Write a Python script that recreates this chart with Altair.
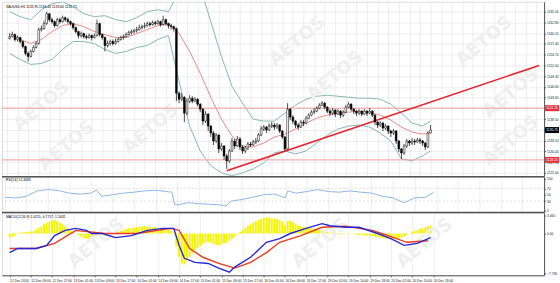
import altair as alt
import pandas as pd

# ---------------- price data (H1 candles) ----------------
closes = [
    1159.25, 1159.75, 1158.5, 1159.0, 1158.0, 1156.75, 1155.0, 1154.25, 1155.5, 1156.5,
    1157.5, 1161.0, 1161.25, 1162.5, 1165.0, 1163.5, 1163.0, 1162.0, 1163.5, 1163.0,
    1164.0, 1163.5, 1163.0, 1162.5, 1161.5, 1160.5, 1159.5, 1160.0, 1159.25, 1159.0,
    1159.5, 1159.0, 1159.5, 1162.5, 1159.75, 1159.0, 1157.0, 1157.5, 1158.0, 1157.5,
    1158.0, 1158.5, 1159.0, 1159.25, 1159.75, 1160.25, 1160.5, 1160.75, 1161.0, 1161.5,
    1161.75, 1162.0, 1162.5, 1162.25, 1162.75, 1162.5, 1163.0, 1162.25, 1163.5, 1162.5,
    1162.0, 1161.75, 1161.25, 1145.0, 1143.5, 1144.0, 1140.0, 1143.0, 1143.75, 1143.0,
    1143.5, 1142.25, 1141.0, 1138.0, 1139.75, 1136.75, 1135.0, 1133.0, 1134.5, 1131.0,
    1131.75, 1129.25, 1128.0, 1130.5, 1133.0, 1131.75, 1133.5, 1131.5, 1130.5, 1131.25,
    1132.25, 1132.0, 1132.75, 1133.0, 1134.5, 1136.0, 1136.5, 1135.75, 1136.75, 1137.0,
    1136.5, 1137.0, 1135.5, 1134.0, 1131.0, 1141.0, 1139.0, 1138.0, 1137.0, 1136.5,
    1137.75, 1137.5, 1138.75, 1139.5, 1140.25, 1140.5, 1141.25, 1142.0, 1142.5, 1141.5,
    1140.5, 1140.0, 1140.75, 1139.75, 1140.5, 1139.5, 1140.25, 1141.5, 1142.25, 1141.0,
    1140.5, 1140.0, 1140.5, 1139.75, 1140.5, 1140.0, 1140.5, 1139.5, 1137.75, 1137.0,
    1137.5, 1136.25, 1136.75, 1135.5, 1135.0, 1135.5, 1133.0, 1131.0, 1130.0, 1131.75,
    1133.0, 1132.5, 1133.0, 1132.75, 1133.25, 1133.0, 1132.5, 1131.5, 1135.0, 1135.75,
]
highs = [
    1160.0, 1160.5, 1160.0, 1159.5, 1159.25, 1158.25, 1157.0, 1155.5, 1156.0, 1157.0,
    1158.0, 1161.5, 1162.0, 1163.25, 1165.5, 1165.0, 1164.0, 1163.25, 1164.0, 1164.0,
    1164.5, 1164.25, 1164.0, 1163.25, 1162.75, 1161.75, 1160.75, 1160.5, 1160.25, 1159.75,
    1160.0, 1159.75, 1160.0, 1163.5, 1162.75, 1160.0, 1159.25, 1158.25, 1158.5, 1158.5,
    1158.75, 1159.0, 1159.5, 1159.75, 1160.25, 1160.75, 1161.0, 1161.25, 1161.75, 1162.25,
    1162.25, 1162.75, 1163.0, 1163.0, 1163.25, 1163.25, 1163.5, 1163.25, 1164.5, 1163.75,
    1162.75, 1162.5, 1162.0, 1161.5, 1145.5, 1145.0, 1144.25, 1143.75, 1144.5, 1144.25,
    1144.0, 1143.75, 1142.5, 1141.25, 1140.5, 1140.0, 1137.0, 1135.5, 1135.0, 1134.75,
    1132.5, 1132.0, 1129.75, 1131.0, 1133.75, 1133.5, 1134.25, 1134.0, 1132.0, 1131.75,
    1132.75, 1132.75, 1133.25, 1133.75, 1135.0, 1136.75, 1137.0, 1136.75, 1137.5, 1137.75,
    1137.5, 1137.5, 1137.25, 1135.75, 1134.25, 1142.5, 1141.25, 1139.5, 1138.25, 1137.5,
    1138.25, 1138.25, 1139.25, 1140.0, 1140.75, 1141.25, 1141.75, 1142.5, 1143.0, 1142.75,
    1141.75, 1141.0, 1141.25, 1141.0, 1141.0, 1140.75, 1140.75, 1142.0, 1142.75, 1142.5,
    1141.25, 1140.75, 1141.0, 1140.75, 1141.0, 1140.75, 1141.25, 1140.75, 1139.75, 1138.0,
    1138.0, 1137.75, 1137.25, 1137.0, 1135.75, 1136.0, 1135.75, 1133.25, 1131.25, 1132.25,
    1133.5, 1133.25, 1133.75, 1133.5, 1133.75, 1133.75, 1133.25, 1132.75, 1135.5, 1137.0,
]
lows = [
    1158.5, 1159.0, 1158.0, 1158.0, 1157.5, 1156.25, 1154.5, 1153.0, 1154.0, 1155.25,
    1156.25, 1157.25, 1160.5, 1161.0, 1162.25, 1163.0, 1162.5, 1161.5, 1161.75, 1162.5,
    1162.75, 1163.0, 1162.5, 1162.0, 1161.0, 1160.0, 1158.75, 1159.0, 1158.75, 1158.5,
    1158.75, 1158.25, 1158.75, 1159.25, 1159.25, 1158.5, 1155.5, 1156.5, 1157.0, 1157.0,
    1157.25, 1157.75, 1158.25, 1158.5, 1159.0, 1159.5, 1159.75, 1160.0, 1160.25, 1160.75,
    1161.0, 1161.25, 1161.75, 1161.75, 1162.0, 1162.0, 1162.25, 1161.75, 1162.0, 1162.0,
    1161.25, 1161.0, 1160.5, 1143.0, 1142.5, 1143.0, 1137.75, 1139.5, 1142.5, 1142.5,
    1142.75, 1141.75, 1140.25, 1137.0, 1137.5, 1135.5, 1134.0, 1132.0, 1132.5, 1130.0,
    1130.5, 1128.25, 1126.0, 1127.5, 1130.25, 1131.0, 1131.5, 1130.75, 1129.75, 1130.0,
    1130.75, 1131.5, 1131.75, 1132.25, 1132.75, 1134.25, 1135.5, 1135.0, 1135.5, 1136.25,
    1135.75, 1136.0, 1135.0, 1133.5, 1130.5, 1130.75, 1138.25, 1137.25, 1136.25, 1135.75,
    1136.25, 1136.75, 1137.25, 1138.5, 1139.25, 1139.75, 1140.25, 1141.0, 1141.75, 1141.0,
    1140.0, 1139.25, 1139.5, 1139.0, 1139.5, 1138.75, 1139.0, 1140.0, 1141.25, 1140.5,
    1139.75, 1139.25, 1139.5, 1139.25, 1139.5, 1139.25, 1139.75, 1139.0, 1137.0, 1136.25,
    1136.5, 1135.5, 1135.75, 1134.75, 1134.0, 1134.5, 1132.25, 1130.25, 1128.5, 1129.5,
    1131.25, 1131.75, 1132.0, 1132.0, 1132.5, 1132.25, 1131.75, 1130.75, 1131.25, 1135.0,
]
first_open = 1158.75
opens = [first_open] + closes[:-1]

# Bollinger bands (read at every 4th bar)
band_idx = [0, 4, 8, 12, 16, 20, 24, 28, 32, 36, 40, 44, 48, 52, 56, 60, 64, 68, 72, 76,
            80, 84, 88, 92, 96, 100, 104, 108, 112, 116, 120, 124, 128, 132, 136, 140, 144, 148, 152, 156, 159]
band_upper = [1165.5, 1164.25, 1163.5, 1166.0, 1167.5, 1168.0, 1166.75, 1165.0, 1164.25, 1164.5,
              1163.5, 1163.0, 1164.0, 1165.5, 1166.0, 1165.5, 1170.5, 1173.0, 1171.75, 1163.0,
              1154.25, 1146.75, 1142.5, 1138.5, 1138.0, 1138.0, 1140.0, 1142.0, 1143.5, 1144.25,
              1144.5, 1144.25, 1144.0, 1143.75, 1143.75, 1143.5, 1142.25, 1140.0, 1137.5, 1136.75, 1138.0]
band_mid = [1160.0, 1158.5, 1157.5, 1158.5, 1160.5, 1162.0, 1162.5, 1161.75, 1160.5, 1159.75,
            1159.0, 1159.0, 1160.0, 1161.0, 1162.0, 1162.5, 1160.0, 1155.5, 1150.0, 1144.0,
            1138.5, 1134.25, 1131.75, 1131.5, 1132.5, 1134.0, 1134.75, 1136.0, 1137.5, 1138.75,
            1139.5, 1140.0, 1140.25, 1140.5, 1140.25, 1139.5, 1138.25, 1136.5, 1135.25, 1134.75, 1135.0]
band_lower = [1155.0, 1153.5, 1152.25, 1152.5, 1153.5, 1156.0, 1158.0, 1158.0, 1157.5, 1156.0,
              1155.0, 1155.5, 1156.5, 1157.0, 1158.5, 1159.5, 1148.0, 1136.75, 1130.5, 1126.75,
              1125.0, 1124.25, 1125.0, 1126.0, 1127.5, 1130.0, 1130.5, 1129.75, 1130.5, 1132.5,
              1134.5, 1136.0, 1136.75, 1137.0, 1136.5, 1135.0, 1133.0, 1128.5, 1128.0, 1129.25, 1130.5]

levels = [1141.25, 1128.25]
last_price = 1135.75
trend_idx = [82, 200]
trend_price = [1125.5, 1152.0]
price_ticks = [1165.50, 1162.80, 1160.10, 1157.40, 1154.70, 1152.00, 1149.30, 1146.60,
               1143.90, 1141.20, 1138.50, 1135.80, 1133.10, 1130.40, 1127.70, 1125.00]

# RSI(14)
rsi_idx = [0, 4, 8, 12, 16, 20, 24, 28, 32, 34, 36, 40, 44, 48, 52, 56, 60, 62, 63, 64,
           68, 72, 76, 80, 82, 84, 88, 92, 96, 100, 104, 105, 108, 112, 116, 120, 124, 128, 132, 136,
           140, 144, 148, 152, 156, 159]
rsi_val = [42, 40, 45, 62, 66, 63, 55, 52, 55, 65, 45, 50, 55, 58, 62, 64, 60, 58, 20, 18,
           25, 22, 20, 18, 15, 30, 35, 42, 50, 52, 40, 62, 55, 60, 66, 60, 58, 62, 58, 55,
           45, 40, 25, 40, 42, 58]
rsi_ticks = [0, 30, 50, 70, 100]

# MACD
macd_idx = [0, 3, 10, 14, 17, 21, 25, 29, 31, 35, 40, 46, 52, 58, 62, 64, 66, 70, 75, 79,
            83, 85, 91, 97, 102, 106, 112, 118, 121, 127, 132, 139, 144, 149, 154, 159]
macd_val = [-3.7, -2.9, -2.9, -2.3, -0.4, 0.6, 1.0, 0.6, 0.0, 0.0, -0.8, -0.4, 0.6, 1.0, 1.0, -2.3, -4.8, -5.6, -5.8, -6.7,
            -7.5, -6.5, -4.6, -1.7, -1.0, 0.0, 1.0, 1.9, 1.5, 1.2, 1.2, 0.0, -1.0, -2.3, -1.9, -0.8]
sig_idx = [0, 10, 17, 25, 36, 48, 61, 64, 68, 73, 79, 85, 91, 97, 102, 110, 118, 127, 137, 143, 150, 158]
sig_val = [-2.9, -2.9, -1.9, 0.6, 0.0, 0.0, 1.0, 0.6, -2.9, -4.6, -5.8, -6.7, -5.6, -3.7, -1.7, -0.4, 1.2, 1.4, 0.6, -0.4, -1.7, -1.4]
hist_val = [
    -0.8, -0.6, -0.4,
    0.1, 0.2, 0.2, 0.3, 0.3, 0.4, 0.5,
    0.8, 1.1, 1.4, 1.8,
    2.1, 2.3, 2.5, 2.6, 2.4, 2.1, 1.8,
    1.4, 1.0, 0.6, 0.3,
    0.0, -0.3, -0.6, -0.9, -1.0, -1.0, -0.8, -0.6, -0.3, 0.2, -0.2, -0.4,
    -0.3, -0.2, -0.1, 0.1, 0.3, 0.5,
    0.7, 0.9, 1.0, 1.1, 1.2, 1.3, 1.3, 1.4, 1.4, 1.3, 1.3, 1.2, 1.2, 1.1, 1.0, 1.0, 0.9, 0.7,
    0.5, 0.2,
    -2.5, -4.5, -5.8, -6.0, -5.2, -4.5, -3.8, -3.2, -2.8, -2.4,
    -2.0, -1.8, -1.6, -1.8, -2.0, -2.2, -2.3, -2.1, -1.9, -1.8, -1.4, -1.0, -0.6, -0.2,
    0.3, 0.7, 1.1, 1.5, 1.8, 2.1, 2.4, 2.6, 2.8, 3.0, 3.1, 3.1, 3.0, 2.9, 2.8, 2.6,
    2.3, 1.6, 2.4, 2.5, 2.2, 1.9, 1.6, 1.4, 1.3, 1.2, 1.1, 1.0, 0.9, 0.8, 0.7, 0.6, 0.5,
    0.3, 0.2, 0.1, 0.0, -0.1, -0.2, -0.1, 0.0, 0.1, 0.0, -0.1, -0.2, -0.3, -0.3, -0.4, -0.4, -0.5, -0.5, -0.6, -0.7,
    -0.8, -0.9, -1.0, -1.0, -1.1, -1.1, -1.0, -0.9, -0.8, -0.6, -0.3,
    0.0, 0.3, 0.5, 0.7, 0.9, 1.0, 1.2, 1.4, 1.6,
]
macd_ticks = [3.46, 0.0, -7.736]

time_labels = ["12 Dec 2016", "12 Dec 09:00", "12 Dec 17:00", "13 Dec 01:00", "13 Dec 09:00",
               "13 Dec 17:00", "14 Dec 01:00", "14 Dec 09:00", "14 Dec 17:00", "15 Dec 01:00",
               "15 Dec 09:00", "15 Dec 17:00", "16 Dec 01:00", "16 Dec 09:00", "16 Dec 17:00",
               "19 Dec 02:00", "19 Dec 10:00", "19 Dec 18:00", "20 Dec 02:00", "20 Dec 10:00",
               "20 Dec 18:00"]
label_step = 8

header_main = "XAUUSD,H1  1133.95 1136.40 1133.60 1135.75"
header_rsi = "RSI(14) 52.4083"
header_macd = "MACD(12,26,9) 1.0215 -0.7717 -1.5432"

# ---------------- layout / style ----------------
W = 545
H_MAIN, H_RSI, H_MACD = 176, 36, 63
FONT = "Liberation Sans"
LBL = 3.3
GRID = "#e2e2e2"
WM = "#efefef"

n = min(len(closes), len(highs), len(lows))
candles = pd.DataFrame({"i": list(range(n)), "open": opens[:n], "high": highs[:n],
                        "low": lows[:n], "close": closes[:n]})
bands = pd.DataFrame({"i": band_idx, "u": band_upper, "m": band_mid, "l": band_lower})
lev = pd.DataFrame({"p": levels, "t": [f"{v:.2f}" for v in levels]})
cur = pd.DataFrame({"p": [last_price], "t": [f"{last_price:.2f}"]})
trend = pd.DataFrame({"i": trend_idx, "p": trend_price})
rsi = pd.DataFrame({"i": rsi_idx, "v": rsi_val})
macd = pd.DataFrame({"i": macd_idx, "v": macd_val})
sig = pd.DataFrame({"i": sig_idx, "v": sig_val})
hist = pd.DataFrame({"i": list(range(len(hist_val))), "v": hist_val})
one = pd.DataFrame({"a": [0]})

xs = alt.Scale(domain=[-1, 200], nice=False, zero=False)
grid_x4 = list(range(-1, 201, 4))
grid_x8 = list(range(0, 201, 8))

def x_axis(values):
    return alt.Axis(values=values, grid=True, gridColor=GRID, gridWidth=0.6,
                    labels=False, ticks=False, domain=False, title=None)

# ---- main panel
ys = alt.Scale(domain=[1124, 1168], nice=False, zero=False)
y_ax = alt.Axis(orient="right", values=price_ticks, format=".2f", labelFontSize=LBL,
                labelFont=FONT, labelColor="#222", tickSize=1.5, tickColor="#666",
                domainColor="#555", domainWidth=1, grid=True, gridColor=GRID, gridWidth=0.6,
                labelPadding=1, title=None, labelOverlap=False)
X = lambda f="i": alt.X(f"{f}:Q", scale=xs, axis=x_axis(grid_x4))
Y = lambda f: alt.Y(f"{f}:Q", scale=ys, axis=y_ax)

def watermark(px, py):
    return alt.Chart(one).mark_text(text="AETOS", angle=320, fontSize=18, fontWeight="bold",
                                    font="DejaVu Sans", color=WM).encode(
        x=alt.value(px), y=alt.value(py))

main_layers = [
    alt.Chart(bands).mark_line(color="#86b8b6", strokeWidth=1, clip=True).encode(x=X(), y=Y("u")),
]
for (px, py) in [(40, 105), (150, 128), (297, 40), (335, 75), (485, 40), (512, 92), (512, 140), (65, 145)]:
    main_layers.append(watermark(px, py))
main_layers += [
    alt.Chart(bands).mark_line(color="#86b8b6", strokeWidth=1, clip=True).encode(x=X(), y=Y("l")),
    alt.Chart(bands).mark_line(color="#ea8a8a", strokeWidth=1, clip=True).encode(x=X(), y=Y("m")),
    alt.Chart(lev).mark_rule(color="#f09a9a", strokeWidth=1).encode(y=Y("p")),
    alt.Chart(trend).mark_line(color="#e8222e", strokeWidth=1.6, clip=True).encode(x=X(), y=Y("p")),
    alt.Chart(candles).mark_rule(color="black", strokeWidth=0.7).encode(x=X(), y=Y("low"), y2="high"),
    alt.Chart(candles).mark_bar(size=1.8, stroke="black", strokeWidth=0.5).encode(
        x=X(), y=Y("open"), y2="close",
        fill=alt.condition("datum.close < datum.open", alt.value("black"), alt.value("white"))),
    alt.Chart(lev).mark_point(shape="M-1,-0.43L1,-0.43L1,0.43L-1,0.43Z", size=196, filled=True,
                              color="#e8323c", opacity=1).encode(x=alt.value(553), y=Y("p")),
    alt.Chart(lev).mark_text(color="white", fontSize=LBL, font=FONT).encode(
        x=alt.value(553), y=Y("p"), text="t:N"),
    alt.Chart(cur).mark_point(shape="M-1,-0.43L1,-0.43L1,0.43L-1,0.43Z", size=196, filled=True,
                              color="black", opacity=1).encode(x=alt.value(553), y=Y("p")),
    alt.Chart(cur).mark_text(color="white", fontSize=LBL, font=FONT).encode(
        x=alt.value(553), y=Y("p"), text="t:N"),
    alt.Chart(one).mark_text(text=header_main, align="left", fontSize=3.4, font=FONT, color="black").encode(
        x=alt.value(4), y=alt.value(5)),
]
main = alt.layer(*main_layers).properties(width=W, height=H_MAIN)

# ---- RSI panel
rs = alt.Scale(domain=[-6.25, 106.25], nice=False, zero=False)
r_ax = alt.Axis(orient="right", values=rsi_ticks, labelFontSize=LBL, labelFont=FONT, labelColor="#222",
                tickSize=1.5, tickColor="#666", domainColor="#555", grid=False,
                labelPadding=1, title=None, labelOverlap=False)
RX = lambda: alt.X("i:Q", scale=xs, axis=x_axis(grid_x8))
RY = lambda f: alt.Y(f"{f}:Q", scale=rs, axis=r_ax)
rsi_levels = pd.DataFrame({"v": [30, 70]})
rsi_chart = alt.layer(
    alt.Chart(rsi).mark_line(color="#8fb6e6", strokeWidth=1).encode(x=RX(), y=RY("v")),
    alt.Chart(rsi_levels).mark_rule(color="#c8c8c8", strokeWidth=0.6, strokeDash=[2, 2]).encode(y=RY("v")),
    alt.Chart(one).mark_rule(color="#555", strokeWidth=1.5).encode(
        x=alt.value(0), x2=alt.value(W), y=alt.value(0)),
    alt.Chart(one).mark_text(text=header_rsi, align="left", fontSize=3.4, font=FONT, color="black").encode(
        x=alt.value(4), y=alt.value(3.5)),
).properties(width=W, height=H_RSI)

# ---- MACD panel
ms = alt.Scale(domain=[-8.09, 4.046], nice=False, zero=False)
m_ax = alt.Axis(orient="right", values=macd_ticks,
                labelExpr="datum.value == 0 ? '0.00' : format(datum.value, '.3f')",
                labelFontSize=LBL, labelFont=FONT, labelColor="#222", tickSize=1.5, tickColor="#666",
                domainColor="#555", grid=False, labelPadding=1, title=None, labelOverlap=False)
lbl_expr = "[" + ",".join(f"'{s}'" for s in time_labels) + f"][round(datum.value/{label_step})]"
mx_ax = alt.Axis(values=[k * label_step for k in range(len(time_labels))], grid=True, gridColor=GRID,
                 gridWidth=0.6, labelExpr=lbl_expr, labelAlign="left", labelBaseline="top",
                 labelFontSize=LBL, labelFont=FONT, labelColor="#222", labelPadding=1.5,
                 labelFlush=False, labelOverlap=False, tickSize=1.5, tickColor="#666",
                 domainColor="#555", domainWidth=1, title=None)
MX = lambda: alt.X("i:Q", scale=xs, axis=mx_ax)
MY = lambda f: alt.Y(f"{f}:Q", scale=ms, axis=m_ax)
macd_layers = [
    alt.Chart(hist).mark_bar(size=2.0, color="#f4f400").encode(x=MX(), y=MY("v"), y2=alt.datum(0)),
]
for (px, py) in [(95, 31), (320, 31), (425, 31)]:
    macd_layers.append(watermark(px, py))
macd_layers += [
    alt.Chart(sig).mark_line(color="#ee3a1e", strokeWidth=1.4).encode(x=MX(), y=MY("v")),
    alt.Chart(macd).mark_line(color="#2727d8", strokeWidth=1.4).encode(x=MX(), y=MY("v")),
    alt.Chart(one).mark_rule(color="#555", strokeWidth=1.5).encode(
        x=alt.value(0), x2=alt.value(W), y=alt.value(0)),
    alt.Chart(one).mark_text(text=header_macd, align="left", fontSize=3.4, font=FONT, color="black").encode(
        x=alt.value(4), y=alt.value(4)),
]
macd_chart = alt.layer(*macd_layers).properties(width=W, height=H_MACD)

chart = alt.vconcat(main, rsi_chart, macd_chart, spacing=0, bounds="flush").properties(
    padding=0, background="white"
).configure_view(stroke=None).configure(font=FONT)

chart.save("out.html", embed_options={"renderer": "svg", "actions": False})
